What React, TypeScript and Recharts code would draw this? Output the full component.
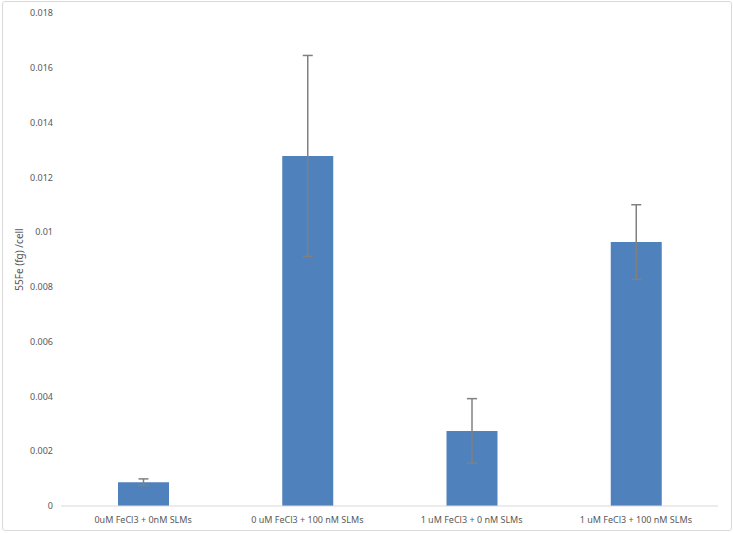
import { BarChart, Bar, XAxis, YAxis, ErrorBar } from "recharts";

const categories = [
  "0uM FeCl3 + 0nM SLMs",
  "0 uM FeCl3 + 100 nM SLMs",
  "1 uM FeCl3 + 0 nM SLMs",
  "1 uM FeCl3 + 100 nM SLMs",
];
const values = [0.00087, 0.01278, 0.00274, 0.00964];
const errors = [0.00012, 0.00367, 0.00118, 0.00136];
const yTicks = [0, 0.002, 0.004, 0.006, 0.008, 0.01, 0.012, 0.014, 0.016, 0.018];

const data = categories.map((name, i) => ({ name, value: values[i], err: errors[i] }));

const font = "'Noto Sans', sans-serif";

export default function App() {
  return (
    <div style={{ position: "absolute", left: 0, top: 0, width: 733, height: 533, background: "#fff" }}>
      <div
        style={{
          position: "absolute",
          left: 2,
          top: 1,
          width: 728,
          height: 528,
          border: "1px solid #d9d9d9",
          borderRadius: 3,
        }}
      />
      <BarChart
        width={733}
        height={533}
        data={data}
        margin={{ top: 13, right: 15, bottom: 0, left: 0 }}
        barSize={51}
        style={{ position: "absolute", left: 0, top: 0 }}
      >
        <XAxis
          dataKey="name"
          height={27}
          tickLine={false}
          axisLine={{ stroke: "#d9d9d9" }}
          tick={{ fill: "#595959", fontSize: 9, fontFamily: font }}
          tickMargin={5}
          interval={0}
        />
        <YAxis
          width={61}
          domain={[0, 0.018]}
          ticks={yTicks}
          tickLine={false}
          axisLine={false}
          tick={{ fill: "#595959", fontSize: 9, fontFamily: font }}
          tickFormatter={(v: number) => String(Number(v.toFixed(3)))}
          label={{
            value: "55Fe (fg) /cell",
            angle: -90,
            position: "insideLeft",
            offset: 19,
            style: { textAnchor: "middle", fill: "#595959", fontSize: 10, fontFamily: font },
          }}
        />
        <Bar dataKey="value" fill="#4f81bd" isAnimationActive={false}>
          <ErrorBar dataKey="err" width={5} stroke="#808080" strokeWidth={1.5} />
        </Bar>
      </BarChart>
    </div>
  );
}
